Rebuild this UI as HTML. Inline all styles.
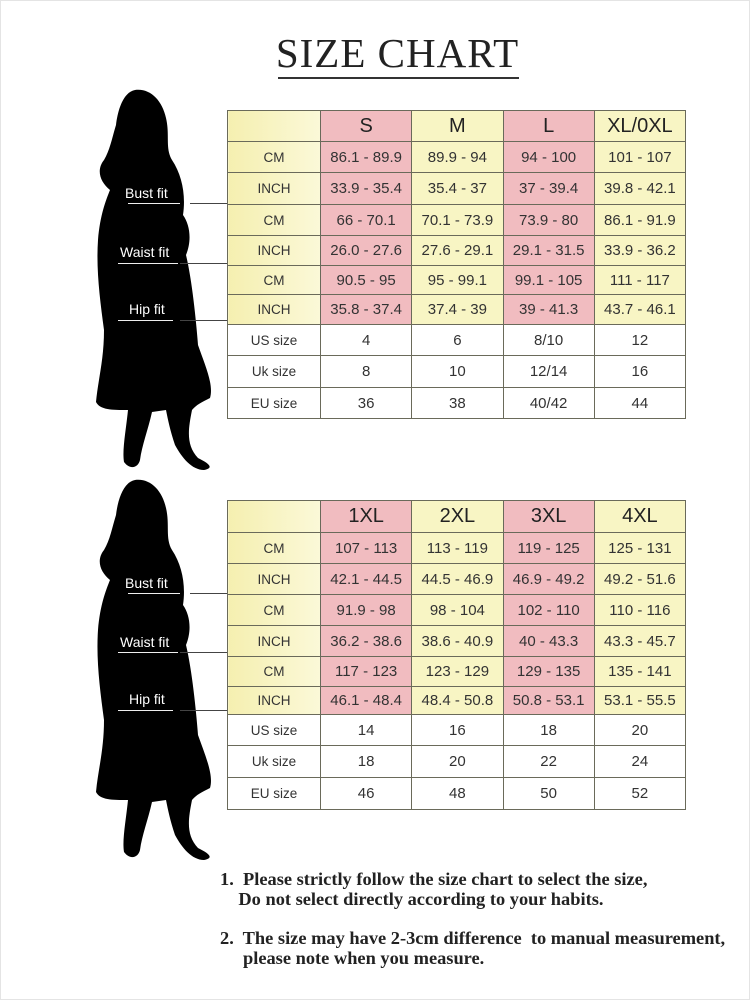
<!DOCTYPE html>
<html><head><style>
body{margin:0;background:#fff;}
#p{position:relative;width:750px;height:1000px;overflow:hidden;background:#fff;font-family:"Liberation Sans",sans-serif;}
.t{position:absolute;left:227px;width:459px;border-collapse:collapse;}
.t td{border:1px solid #6a6a5a;padding:0;text-align:center;font-size:15px;color:#333;}
.t td.l{width:92px;font-size:13.5px;background:linear-gradient(90deg,#f5efb0,#fbf9d8);}
.t td.l.w{background:#fff;}
.t tr.h td{font-size:20px;color:#222;}
.y{background:#f8f5c4;}
.k{background:#f1bcc0;}
.w{background:#fff;}
.lab{position:absolute;color:#fff;font-size:14px;}
.ul{position:absolute;height:1px;background:#eee;}
.ln{position:absolute;height:1px;background:#444;}
.note{position:absolute;left:220px;font-family:"Liberation Serif",serif;font-weight:bold;font-size:18.4px;color:#222;line-height:20px;white-space:nowrap;}
</style></head><body><div id="p">
<div style="position:absolute;left:0;top:0;width:748px;height:998px;border:1px solid #e4e4e4"></div>
<div style="position:absolute;left:0;width:795px;top:29px;text-align:center;font-family:'Liberation Serif',serif;font-size:41px;letter-spacing:1px;color:#222">SIZE CHART</div>
<div style="position:absolute;left:278px;top:77px;width:241px;height:2px;background:#333"></div>

<svg style="position:absolute;left:0;top:0" width="750" height="1000">
<defs><path id="s" d="M135,90 C150,88 162,100 166,118 C170,135 165,148 172,160 C182,175 186,195 183,215 C190,225 192,240 186,255 C192,280 196,320 198,345 C205,365 214,385 210,398 C202,402 196,405 192,410 C188,430 186,445 198,458 C210,464 214,468 204,470 C192,470 182,458 175,445 C170,430 168,420 166,410 L152,412 C148,430 142,445 140,460 C138,468 130,470 124,462 C122,450 126,430 128,410 C112,410 100,410 96,402 C98,380 104,360 104,330 C100,300 96,270 98,240 C100,215 106,200 110,190 C100,182 96,170 104,160 C110,150 112,138 116,125 C118,108 124,92 135,90 Z"/></defs>
<use href="#s" fill="#000"/>
<use href="#s" fill="#000" transform="translate(0,390)"/>
</svg>

<div class="lab" style="left:125px;top:185px">Bust fit</div><div class="ul" style="left:128px;top:203px;width:52px"></div><div class="ln" style="left:190px;top:203px;width:37px"></div>
<div class="lab" style="left:120px;top:244px">Waist fit</div><div class="ul" style="left:118px;top:263px;width:60px"></div><div class="ln" style="left:180px;top:263px;width:47px"></div>
<div class="lab" style="left:129px;top:301px">Hip fit</div><div class="ul" style="left:118px;top:320px;width:55px"></div><div class="ln" style="left:180px;top:320px;width:47px"></div>

<div class="lab" style="left:125px;top:575px">Bust fit</div><div class="ul" style="left:128px;top:593px;width:52px"></div><div class="ln" style="left:190px;top:593px;width:37px"></div>
<div class="lab" style="left:120px;top:634px">Waist fit</div><div class="ul" style="left:118px;top:652px;width:60px"></div><div class="ln" style="left:180px;top:652px;width:47px"></div>
<div class="lab" style="left:129px;top:691px">Hip fit</div><div class="ul" style="left:118px;top:710px;width:55px"></div><div class="ln" style="left:180px;top:710px;width:47px"></div>

<table class="t" style="top:110px">
<tr class="h" style="height:31px"><td class="l"></td><td class="k">S</td><td class="y">M</td><td class="k">L</td><td class="y">XL/0XL</td></tr>
<tr style="height:31px"><td class="l">CM</td><td class="k">86.1 - 89.9</td><td class="y">89.9 - 94</td><td class="k">94 - 100</td><td class="y">101 - 107</td></tr>
<tr style="height:32px"><td class="l">INCH</td><td class="k">33.9 - 35.4</td><td class="y">35.4 - 37</td><td class="k">37 - 39.4</td><td class="y">39.8 - 42.1</td></tr>
<tr style="height:31px"><td class="l">CM</td><td class="k">66 - 70.1</td><td class="y">70.1 - 73.9</td><td class="k">73.9 - 80</td><td class="y">86.1 - 91.9</td></tr>
<tr style="height:30px"><td class="l">INCH</td><td class="k">26.0 - 27.6</td><td class="y">27.6 - 29.1</td><td class="k">29.1 - 31.5</td><td class="y">33.9 - 36.2</td></tr>
<tr style="height:29px"><td class="l">CM</td><td class="k">90.5 - 95</td><td class="y">95 - 99.1</td><td class="k">99.1 - 105</td><td class="y">111 - 117</td></tr>
<tr style="height:30px"><td class="l">INCH</td><td class="k">35.8 - 37.4</td><td class="y">37.4 - 39</td><td class="k">39 - 41.3</td><td class="y">43.7 - 46.1</td></tr>
<tr style="height:31px"><td class="l w">US size</td><td class="w">4</td><td class="w">6</td><td class="w">8/10</td><td class="w">12</td></tr>
<tr style="height:32px"><td class="l w">Uk size</td><td class="w">8</td><td class="w">10</td><td class="w">12/14</td><td class="w">16</td></tr>
<tr style="height:31px"><td class="l w">EU size</td><td class="w">36</td><td class="w">38</td><td class="w">40/42</td><td class="w">44</td></tr>
</table>

<table class="t" style="top:500px">
<tr class="h" style="height:32px"><td class="l"></td><td class="k">1XL</td><td class="y">2XL</td><td class="k">3XL</td><td class="y">4XL</td></tr>
<tr style="height:31px"><td class="l">CM</td><td class="k">107 - 113</td><td class="y">113 - 119</td><td class="k">119 - 125</td><td class="y">125 - 131</td></tr>
<tr style="height:31px"><td class="l">INCH</td><td class="k">42.1 - 44.5</td><td class="y">44.5 - 46.9</td><td class="k">46.9 - 49.2</td><td class="y">49.2 - 51.6</td></tr>
<tr style="height:31px"><td class="l">CM</td><td class="k">91.9 - 98</td><td class="y">98 - 104</td><td class="k">102 - 110</td><td class="y">110 - 116</td></tr>
<tr style="height:31px"><td class="l">INCH</td><td class="k">36.2 - 38.6</td><td class="y">38.6 - 40.9</td><td class="k">40 - 43.3</td><td class="y">43.3 - 45.7</td></tr>
<tr style="height:30px"><td class="l">CM</td><td class="k">117 - 123</td><td class="y">123 - 129</td><td class="k">129 - 135</td><td class="y">135 - 141</td></tr>
<tr style="height:28px"><td class="l">INCH</td><td class="k">46.1 - 48.4</td><td class="y">48.4 - 50.8</td><td class="k">50.8 - 53.1</td><td class="y">53.1 - 55.5</td></tr>
<tr style="height:31px"><td class="l w">US size</td><td class="w">14</td><td class="w">16</td><td class="w">18</td><td class="w">20</td></tr>
<tr style="height:32px"><td class="l w">Uk size</td><td class="w">18</td><td class="w">20</td><td class="w">22</td><td class="w">24</td></tr>
<tr style="height:32px"><td class="l w">EU size</td><td class="w">46</td><td class="w">48</td><td class="w">50</td><td class="w">52</td></tr>
</table>

<div class="note" style="top:869px">1.&nbsp; Please strictly follow the size chart to select the size,<br>&nbsp;&nbsp;&nbsp;&nbsp;Do not select directly according to your habits.</div>
<div class="note" style="top:928px">2.&nbsp; The size may have 2-3cm difference&nbsp; to manual measurement,<br>&nbsp;&nbsp;&nbsp;&nbsp;&nbsp;please note when you measure.</div>
</div></body></html>
